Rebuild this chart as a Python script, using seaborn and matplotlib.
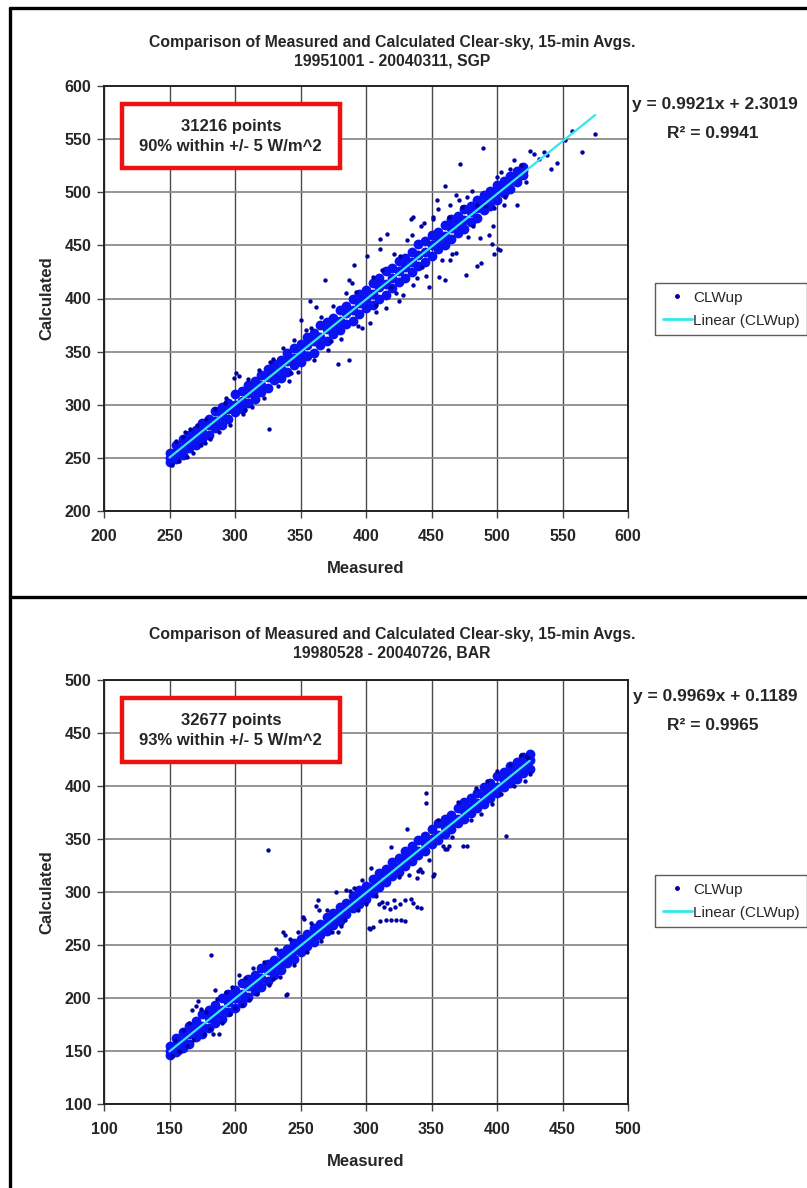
import matplotlib
matplotlib.use("Agg")
import matplotlib.pyplot as plt
import seaborn as sns
from matplotlib.patches import Rectangle
from matplotlib.lines import Line2D

sns.set_style("white")
plt.rcParams["font.family"] = ["Liberation Sans", "DejaVu Sans"]

# ---------------- SGP panel ----------------
sgp_core_measured = [250, 255, 260, 265, 270, 275, 280, 285, 290, 295, 300, 305, 310, 315, 320, 325, 330, 335, 340,
                     345, 350, 355, 360, 365, 370, 375, 380, 385, 390, 395, 400, 405, 410, 415, 420, 425, 430, 435,
                     440, 445, 450, 455, 460, 465, 470, 475, 480, 485, 490, 495, 500, 505, 510, 515, 520]
sgp_core_low = [246, 249, 253, 259, 262, 268, 272, 278, 281, 287, 293, 296, 302, 305, 312, 316, 323, 325, 331, 337,
                340, 346, 349, 356, 360, 367, 370, 376, 379, 385, 391, 394, 400, 403, 410, 416, 419, 425, 431, 434,
                440, 447, 450, 456, 462, 465, 472, 476, 483, 487, 493, 499, 503, 510, 516]
sgp_core_mid = [250, 256, 259, 266, 270, 274, 281, 285, 289, 296, 300, 304, 311, 314, 319, 326, 330, 334, 341, 344,
                349, 356, 360, 364, 371, 375, 379, 386, 389, 396, 400, 404, 411, 414, 419, 426, 430, 434, 441, 444,
                450, 455, 459, 466, 470, 474, 481, 485, 489, 496, 500, 504, 511, 514, 520]
sgp_core_high = [255, 262, 268, 272, 276, 283, 287, 294, 298, 302, 310, 313, 319, 322, 328, 334, 338, 342, 349, 353,
                 357, 364, 368, 375, 378, 382, 389, 393, 400, 404, 408, 415, 419, 426, 429, 435, 438, 444, 451, 454,
                 460, 463, 469, 475, 478, 484, 487, 493, 497, 501, 507, 511, 515, 520, 524]

sgp_measured = [252, 255, 257, 260, 263, 266, 268, 271, 274, 278, 281, 285, 288, 292, 296, 299, 301, 303, 306, 310,
                313, 318, 322, 326, 329, 333, 337, 341, 345, 348, 350, 354, 357, 360, 362, 366, 369, 371, 375, 379,
                381, 385, 387, 387, 389, 391, 394, 397, 401, 403, 405, 408, 411, 411, 412, 415, 416, 419, 421, 423,
                425, 428, 431, 434, 435, 436, 436, 439, 442, 444, 446, 448, 451, 451, 454, 455, 456, 458, 460, 460,
                464, 464, 466, 469, 469, 471, 472, 473, 476, 477, 478, 481, 485, 485, 487, 488, 489, 491, 494, 496,
                497, 498, 498, 501, 502, 503, 505, 506, 510, 513, 515, 518, 522, 525, 528, 532, 536, 538, 541, 546,
                552, 557, 565, 575, 262, 277, 293, 308, 327, 343, 358, 373, 392, 408, 426, 443, 463, 482, 500]
sgp_calculated = [243, 266, 247, 270, 251, 277, 255, 281, 262, 287, 268, 296, 274, 302, 281, 325, 330, 327, 291, 324,
                  298, 333, 306, 277, 343, 318, 353, 322, 361, 331, 380, 370, 398, 342, 392, 383, 417, 352, 393, 338,
                  362, 405, 342, 417, 415, 432, 374, 372, 440, 377, 420, 387, 456, 447, 427, 391, 461, 411, 442, 405,
                  398, 403, 455, 475, 460, 413, 477, 419, 468, 471, 421, 411, 475, 477, 493, 484, 420, 436, 417, 506,
                  436, 488, 442, 443, 497, 493, 527, 486, 422, 496, 458, 501, 488, 431, 457, 433, 542, 487, 460, 451,
                  468, 485, 442, 447, 446, 519, 488, 496, 522, 530, 488, 526, 510, 539, 536, 531, 538, 535, 522, 528,
                  549, 558, 538, 555, 274, 264, 306, 295, 340, 330, 372, 360, 406, 394, 440, 430, 477, 468, 514]

# ---------------- BAR panel ----------------
bar_core_measured = [150, 155, 160, 165, 170, 175, 180, 185, 190, 195, 200, 205, 210, 215, 220, 225, 230, 235, 240,
                     245, 250, 255, 260, 265, 270, 275, 280, 285, 290, 295, 300, 305, 310, 315, 320, 325, 330, 335,
                     340, 345, 350, 355, 360, 365, 370, 375, 380, 385, 390, 395, 400, 405, 410, 415, 420, 425]
bar_core_low = [146, 149, 153, 157, 163, 166, 172, 176, 180, 187, 191, 195, 201, 207, 210, 216, 222, 226, 233, 237,
                243, 249, 253, 259, 263, 269, 273, 279, 285, 289, 293, 299, 305, 309, 315, 319, 325, 329, 335, 339,
                345, 349, 355, 359, 365, 369, 375, 379, 383, 389, 393, 399, 403, 407, 412, 416]
bar_core_mid = [150, 156, 159, 166, 170, 174, 181, 185, 189, 196, 200, 204, 211, 215, 219, 226, 230, 234, 241, 245,
                249, 256, 260, 264, 271, 275, 279, 286, 290, 294, 301, 305, 309, 316, 320, 324, 331, 335, 339, 346,
                350, 354, 361, 365, 369, 376, 380, 384, 391, 395, 399, 406, 410, 414, 421, 425]
bar_core_high = [155, 162, 168, 174, 178, 185, 189, 193, 200, 204, 208, 214, 218, 222, 228, 232, 236, 242, 246, 252,
                 256, 260, 266, 270, 276, 280, 286, 290, 296, 302, 306, 312, 318, 322, 328, 332, 339, 343, 349, 353,
                 359, 365, 369, 373, 379, 385, 389, 393, 399, 403, 409, 413, 419, 423, 427, 430]

bar_measured = [152, 154, 157, 158, 160, 163, 165, 167, 168, 170, 172, 174, 176, 178, 181, 182, 183, 185, 186, 188,
                190, 193, 196, 198, 200, 203, 205, 208, 211, 214, 217, 222, 225, 226, 229, 231, 234, 237, 238, 239,
                240, 242, 245, 248, 252, 253, 255, 258, 262, 263, 264, 266, 270, 274, 277, 279, 281, 284, 285, 288,
                291, 294, 297, 300, 302, 303, 304, 305, 308, 310, 311, 312, 314, 315, 316, 318, 319, 319, 321, 322,
                323, 325, 326, 327, 330, 330, 331, 333, 334, 336, 339, 339, 340, 341, 342, 343, 346, 346, 348, 351,
                352, 355, 359, 360, 362, 363, 366, 370, 374, 377, 380, 384, 388, 392, 396, 400, 403, 407, 410, 413,
                418, 421, 422, 424, 425]
bar_calculated = [145, 160, 150, 149, 170, 155, 176, 189, 160, 192, 197, 190, 166, 187, 171, 241, 166, 208, 199, 166,
                  176, 206, 185, 210, 191, 222, 193, 219, 198, 228, 204, 234, 340, 212, 218, 246, 220, 262, 259, 203,
                  204, 256, 231, 262, 276, 275, 243, 271, 287, 292, 283, 254, 283, 262, 300, 262, 268, 274, 302, 301,
                  304, 283, 311, 289, 266, 265, 323, 267, 296, 289, 273, 291, 286, 274, 290, 284, 274, 342, 292, 286,
                  274, 314, 289, 274, 292, 273, 359, 316, 293, 290, 286, 313, 320, 322, 285, 319, 393, 384, 330, 315,
                  317, 368, 343, 341, 341, 343, 352, 385, 343, 343, 368, 398, 374, 405, 383, 414, 392, 353, 420, 400,
                  429, 405, 428, 426, 411]

# fit coefficients printed on the chart
sgp_fit = (0.9921, 2.3019, 0.9941)
bar_fit = (0.9969, 0.1189, 0.9965)

BLUE = "#0a12f4"
NAVY = "#0000a0"
CYAN = "#34e6f0"
TICK_FONT = dict(fontsize=11.5, fontweight="bold")
LABEL_FONT = dict(fontsize=12, fontweight="bold")
BOX_FONT = dict(fontsize=12, fontweight="bold")


def draw_panel(ax, core_m, core_rows, pts_m, pts_c, fit, lim, npoints, pct):
    core_x = core_m * len(core_rows)
    core_y = [v for row in core_rows for v in row]
    sns.scatterplot(x=core_x, y=core_y, ax=ax, color=BLUE, s=50, linewidth=0, zorder=3)
    sns.scatterplot(x=pts_m, y=pts_c, ax=ax, color=NAVY, s=10, linewidth=0, zorder=3)

    slope, icpt, r2 = fit
    xs = [min(core_m + pts_m), max(core_m + pts_m)]
    ax.plot(xs, [slope * v + icpt for v in xs], color=CYAN, lw=1.6, zorder=4)

    ticks = list(range(lim[0], lim[1] + 1, 50))
    ax.set_xlim(lim)
    ax.set_ylim(lim)
    ax.set_xticks(ticks)
    ax.set_yticks(ticks)
    ax.set_xticklabels([str(t) for t in ticks], **TICK_FONT)
    ax.set_yticklabels([str(t) for t in ticks], **TICK_FONT)
    ax.tick_params(direction="out", length=5, width=1, color="#444444", pad=4,
                   bottom=True, left=True)
    ax.tick_params(axis="x", pad=8)
    ax.xaxis.grid(True, color="#4a4a4a", lw=1.0)
    ax.yaxis.grid(True, color="#8c8c8c", lw=1.3)
    for sp in ax.spines.values():
        sp.set_color("#222222")
        sp.set_linewidth(1.4)
    ax.set_xlabel("Measured", **LABEL_FONT)
    ax.set_ylabel("Calculated", **LABEL_FONT)
    ax.xaxis.set_label_coords(0.5, -0.118)
    ax.yaxis.set_label_coords(-0.094, 0.5)

    ax.add_patch(Rectangle((0.034, 0.807), 0.416, 0.151, transform=ax.transAxes,
                           facecolor="white", edgecolor="#ee1111", lw=3.2, zorder=6))
    ax.text(0.242, 0.905, f"{npoints} points", transform=ax.transAxes, ha="center", va="center",
            zorder=7, **BOX_FONT)
    ax.text(0.242, 0.858, f"{pct}% within +/- 5 W/m^2", transform=ax.transAxes, ha="center",
            va="center", zorder=7, **BOX_FONT)


fig = plt.figure(figsize=(8.07, 11.88), dpi=100)
W, H = 807.0, 1188.0

ax1 = fig.add_axes([104 / W, 1 - 511 / H, 524 / W, 425 / H])
ax2 = fig.add_axes([104 / W, 1 - 1104 / H, 524 / W, 424 / H])

draw_panel(ax1, sgp_core_measured, [sgp_core_low, sgp_core_mid, sgp_core_high],
           sgp_measured, sgp_calculated, sgp_fit, (200, 600), 31216, 90)
draw_panel(ax2, bar_core_measured, [bar_core_low, bar_core_mid, bar_core_high],
           bar_measured, bar_calculated, bar_fit, (100, 500), 32677, 93)

titles = [("19951001 - 20040311, SGP", 0, sgp_fit), ("19980528 - 20040726, BAR", 592, bar_fit)]
for sub, off, fit in titles:
    fig.text(392 / W, 1 - (42 + off) / H, "Comparison of Measured and Calculated Clear-sky, 15-min Avgs.",
             ha="center", va="center", fontsize=11.3, fontweight="bold")
    fig.text(392 / W, 1 - (61 + off) / H, sub, ha="center", va="center", fontsize=11.3, fontweight="bold")
    fig.text(715 / W, 1 - (104 + off) / H, f"y = {fit[0]:.4f}x + {fit[1]:.4f}",
             ha="center", va="center", fontsize=12.5, fontweight="bold")
    fig.text(713 / W, 1 - (133 + off) / H, f"R\u00b2 = {fit[2]:.4f}",
             ha="center", va="center", fontsize=12.5, fontweight="bold")
    handles = [Line2D([], [], marker="o", ls="", color=NAVY, markersize=2.5),
               Line2D([], [], color=CYAN, lw=2)]
    fig.legend(handles, ["CLWup", "Linear (CLWup)"], loc="upper left",
               bbox_to_anchor=(655 / W, 1 - (283 + off) / H), frameon=True, fancybox=False,
               edgecolor="#333333", fontsize=11, handlelength=1.9, handletextpad=0.1,
               borderpad=0.5, labelspacing=0.6, borderaxespad=0.0)

# panel frames
frame = dict(transform=fig.transFigure, color="black", lw=2.4)
fig.add_artist(Line2D([10 / W, 10 / W], [0, 1 - 8 / H], **frame))
fig.add_artist(Line2D([10 / W, 1], [1 - 8 / H, 1 - 8 / H], **frame))
fig.add_artist(Line2D([10 / W, 1], [1 - 597 / H, 1 - 597 / H], **frame))

fig.savefig("out.png", dpi=100, facecolor="white")
